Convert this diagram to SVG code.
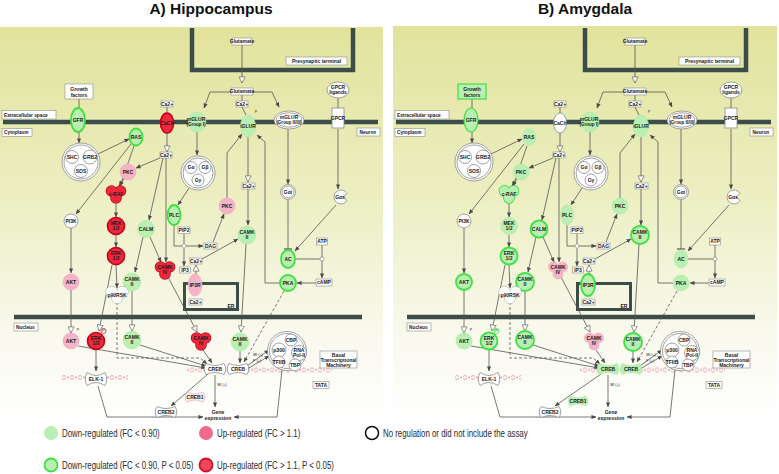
<svg xmlns="http://www.w3.org/2000/svg" xmlns:xlink="http://www.w3.org/1999/xlink" width="779" height="474" viewBox="0 0 779 474">
<style>
.bg{fill:url(#bgg)}
.mem{fill:none;stroke:#3b4c49;stroke-width:4.5}
.w{fill:none;stroke:#555;stroke-width:0.8}
.wd{fill:none;stroke:#555;stroke-width:0.8;stroke-dasharray:3,2}
.a{marker-end:url(#ah)}
.t{marker-end:url(#tri)}
.b{marker-end:url(#bar)}
.bx{fill:#fff;stroke:#8a8a8a;stroke-width:0.6}
.gbx{fill:#b9efb2;stroke:#3fe040;stroke-width:1.2}
.n0{fill:#fff;stroke:#8a8a8a;stroke-width:0.8}
.dg{fill:#b9efb2;stroke:#aee8a6;stroke-width:0.6}
.dgs{fill:#b9efb2;stroke:#3fe040;stroke-width:1.8}
.up{fill:#f4b3c6;stroke:#eeaabd;stroke-width:0.6}
.ups{fill:#f0283c;stroke:#c4001c;stroke-width:1.6}
.pk0{fill:#fdf0f3;stroke:#e8a8b8;stroke-width:0.7}
text{font-family:"Liberation Sans",Arial,sans-serif;font-size:5px;font-weight:bold;text-anchor:middle;fill:#1a1a1a}
.st{text-anchor:start}
.sm{font-size:3.6px;font-weight:normal}
.ttl{font-size:15.5px;fill:#111}
.lg{font-size:10.5px;font-weight:normal;text-anchor:start;fill:#2a2a2a}
</style>
<defs>
<linearGradient id="bgg" x1="0" y1="0" x2="0" y2="1">
<stop offset="0" stop-color="#e1e39c"/>
<stop offset="0.45" stop-color="#edefc4"/>
<stop offset="0.78" stop-color="#f9f9ee"/>
<stop offset="1" stop-color="#ffffff"/>
</linearGradient>
<pattern id="dna" width="8" height="5" patternUnits="userSpaceOnUse"><path d="M0,0.5 L8,4.5 M0,4.5 L8,0.5" stroke="#e8889a" stroke-width="0.8" stroke-dasharray="2.2,1.2" fill="none"/></pattern>
<pattern id="dna2" y="2.5" width="8" height="5" patternUnits="userSpaceOnUse"><path d="M0,0.5 L8,4.5 M0,4.5 L8,0.5" stroke="#e8889a" stroke-width="0.8" stroke-dasharray="2.2,1.2" fill="none"/></pattern>
<marker id="ah" viewBox="0 0 6 6" refX="5.5" refY="3" markerWidth="5" markerHeight="5" markerUnits="userSpaceOnUse" orient="auto"><path d="M0,0.5 L6,3 L0,5.5 z" fill="#4a4a4a"/></marker>
<marker id="tri" viewBox="0 0 8 8" refX="7.5" refY="4" markerWidth="7" markerHeight="7" markerUnits="userSpaceOnUse" orient="auto"><path d="M0.5,0.5 L7.5,4 L0.5,7.5 z" fill="#fff" stroke="#666" stroke-width="0.8"/></marker>
<marker id="bar" viewBox="0 0 2 8" refX="1" refY="4" markerWidth="2" markerHeight="8" markerUnits="userSpaceOnUse" orient="auto"><path d="M1,0 V8" stroke="#555" stroke-width="1.2"/></marker>
<g id="frame">
<path class="mem" d="M192,28 V70 H353 V28"/>
<path class="mem" d="M3,122 H378"/>
<path class="mem" d="M14,317 H362"/>
<rect x="184.5" y="283.5" width="53" height="26" fill="none" stroke="#3b4c49" stroke-width="3"/>
<rect x="62" y="375" width="66" height="5" fill="url(#dna)"/>
<rect x="186" y="367.5" width="146" height="5" fill="url(#dna2)"/>
</g>
<g id="wires">
<path class="w t" d="M242,45 V83"/>
<path class="w a" d="M234,92 H210 L204,108"/>
<path class="w a" d="M250,92 H272 L279,107"/>
<path class="w" d="M242,95 V101"/>
<path class="w" d="M242,107 L246,115"/>
<path class="w" d="M79,99 V108"/>
<path class="w a" d="M79,132 V143"/>
<path class="w a" d="M98,154 L129,139"/>
<path class="w" d="M167,107 V113"/>
<path class="w t" d="M167,133 V152"/>
<path class="w a" d="M160,158 L136,168"/>
<path class="w a" d="M134,146 L120,186"/>
<path class="w a" d="M131,144 L76,214"/>
<path class="w a" d="M124,179 L119,186"/>
<path class="w a" d="M116,204 V217"/>
<path class="w a" d="M116,235 V247"/>
<path class="w a" d="M116,265 L117,288"/>
<path class="w t" d="M112,265 L99,331"/>
<path class="w a" d="M71,228 V273"/>
<path class="w t" d="M71,290 V333"/>
<path class="w a" d="M163,158 L149,220"/>
<path class="w a" d="M166,158 V262"/>
<path class="w a" d="M143,237 L135,272"/>
<path class="w a" d="M150,237 L161,262"/>
<path class="w t" d="M132,291 V331"/>
<path class="w a" d="M197,132 V155"/>
<path class="w a" d="M189,188 L178,205"/>
<path class="w a" d="M174,225 V246 H203"/>
<path class="w" d="M184,233.5 V244"/>
<path d="M184,243.5 L186.5,246 L184,248.5 L181.5,246 Z" fill="#fff" stroke="#666" stroke-width="0.6"/>
<path class="w a" d="M184,248.5 V266"/>
<path class="w a" d="M213,242 L224,214"/>
<path class="w a" d="M227,198 V153 L242,134"/>
<path class="w t" d="M248,137 V182"/>
<path class="w a" d="M248,189 V225"/>
<path class="w a" d="M202,259 L238,239"/>
<path class="w t" d="M196,274 V265"/>
<path class="w t" d="M168,277 L197,332"/>
<path class="w t" d="M246,244 L241,332"/>
<path class="w a" d="M288,129 V184"/>
<path class="w" d="M338,98 V108"/>
<path class="w a" d="M338,129 V189"/>
<path class="w b" d="M288,200 V249"/>
<path class="w a" d="M336,205 L295,251"/>
<path class="w" d="M295,259 H320"/>
<path class="w a" d="M322,245 V278"/>
<circle cx="322" cy="259" r="2" fill="#fff" stroke="#777" stroke-width="0.6"/>
<path class="w a" d="M316,283 H297"/>
<path class="w a" d="M280,283 H265 V142 L257,135"/>
<path class="wd a" d="M284,291 L244,362"/>
<path class="wd a" d="M117,302 V358 H200 L207,364"/>
<path class="w a" d="M78,346 L206,368"/>
<path class="w a" d="M140,345 L206,366"/>
<path class="w a" d="M203,350 L212,363"/>
<path class="w a" d="M240,351 V363"/>
<path class="w a" d="M96,350 V371"/>
<path class="w a" d="M247,366 L269,350"/>
<path class="w a" d="M247,369 L269,356"/>
<path class="w a" d="M215,375 V407"/>
<path class="w a" d="M98,386 L107,417 H203"/>
<path class="w a" d="M282,370 L277,417 H234"/>
</g>
</defs>

<rect width="779" height="474" fill="#fff"/>
<text class="ttl" x="211" y="14">A) Hippocampus</text>
<text class="ttl" x="585" y="14">B) Amygdala</text>

<!-- ================= PANEL A ================= -->
<g id="panelA">
<rect class="bg" x="0" y="27" width="383" height="395"/>
<use xlink:href="#frame"/>
<g id="A-connectors"><use xlink:href="#wires"/><path class="w a" d="M208,374 L171,406"/></g>
<g id="A-labels">
<rect class="bx" x="2" y="110.5" width="54" height="8.5"/><text class="st" x="4" y="116.6" style="font-size:4.8px">Extracellular space</text>
<rect class="bx" x="2" y="128.5" width="30" height="8"/><text class="st" x="4" y="134.4" style="font-size:4.8px">Cytoplasm</text>
<rect class="bx" x="14" y="323" width="24" height="8"/><text class="st" x="16" y="328.9" style="font-size:4.8px">Nucleus</text>
<rect class="bx" x="357" y="128" width="23" height="8"/><text class="st" x="359.5" y="133.9" style="font-size:4.8px">Neuron</text>
<rect class="bx" x="286" y="57" width="61" height="8"/><text x="316.5" y="62.8">Presynaptic terminal</text>
<text x="231" y="307.5">ER</text>
<rect class="bx" x="320" y="351" width="37" height="17"/><text x="338.5" y="356.5">Basal</text><text x="338.5" y="361.5">Transcriptional</text><text x="338.5" y="366.5">Machinery</text>
<rect class="bx" x="313" y="381.5" width="16" height="7"/><text x="321" y="386.7">TATA</text>
<text x="218" y="413.8">Gene</text><text x="218" y="419.8">expression</text>
<text class="sm" x="256" y="113">P</text><text class="sm" x="78" y="331">P</text>
<text class="sm" x="222" y="386">MI (+)</text><text class="sm" x="258" y="356">MI (+)</text><text class="sm" x="257" y="362">P (+)</text>
<circle cx="103.5" cy="331" r="2.5" fill="#fff" stroke="#e0203a" stroke-width="0.9"/><text class="sm" x="103.5" y="332.3">P</text>
</g>
<g id="A-small-molecules">
<g id="A-glutamate-1"><rect class="bx" x="232" y="38" width="20" height="7"/><text x="242" y="43.3">Glutamate</text></g>
<g id="A-glutamate-2"><rect class="bx" x="231" y="88" width="22" height="7"/><text x="242" y="93.3">Glutamate</text></g>
<g id="A-ca-1"><rect class="bx" x="236" y="101" width="12" height="6"/><text x="242" y="105.6">Ca2+</text></g>
<g id="A-ca-2"><rect class="bx" x="161" y="101" width="12" height="6"/><text x="167" y="105.6">Ca2+</text></g>
<g id="A-ca-3"><rect class="bx" x="160" y="152" width="12" height="6"/><text x="166" y="156.6">Ca2+</text></g>
<g id="A-ca-4"><rect class="bx" x="242" y="183" width="13" height="6"/><text x="248.5" y="187.6">Ca2+</text></g>
<g id="A-ca-5"><rect class="bx" x="190" y="258" width="12" height="6"/><text x="196" y="262.6">Ca2+</text></g>
<g id="A-ca-6"><rect class="bx" x="189" y="299" width="13" height="6"/><text x="195.5" y="303.6">Ca2+</text></g>
<g id="A-PIP2"><rect class="bx" x="178" y="227" width="12" height="6.5"/><text x="184" y="231.9">PIP2</text></g>
<g id="A-DAG"><rect class="bx" x="204" y="243" width="13" height="6"/><text x="210.5" y="247.6">DAG</text></g>
<g id="A-IP3"><rect class="bx" x="179.5" y="267" width="11" height="6"/><text x="185" y="271.6">IP3</text></g>
<g id="A-ATP"><rect class="bx" x="316.5" y="238" width="11" height="7"/><text x="322" y="243.2">ATP</text></g>
<g id="A-cAMP"><rect class="bx" x="316" y="279" width="16" height="7"/><text x="324" y="284.2">cAMP</text></g>
</g>
<g id="A-growth-factors"><rect class="bx" x="65" y="84" width="28" height="15"/><text x="79" y="90.5">Growth</text><text x="79" y="96.5">factors</text></g>
<g id="A-GFR"><ellipse class="dgs" cx="78" cy="120" rx="7" ry="12"/><text x="78" y="121.8">GFR</text></g>
<g id="A-CaCh"><ellipse class="ups" cx="167" cy="123" rx="6.5" ry="10"/><text x="167" y="124.8">CaCh</text></g>
<g id="A-mGLUR1"><ellipse class="dg" cx="197" cy="122" rx="9" ry="10"/><text x="196" y="121.2">mGLUR</text><text x="196" y="126" style="font-size:4.5px">(Group I)</text></g>
<g id="A-iGLUR"><ellipse class="dg" cx="248" cy="126" rx="7.5" ry="11"/><text x="248" y="127.8">iGLUR</text></g>
<g id="A-mGLUR23"><ellipse class="n0" cx="289" cy="120" rx="15" ry="9"/><ellipse class="n0" cx="289" cy="120" rx="13" ry="7.2"/><text x="289" y="119.2">mGLUR</text><text x="289" y="124" style="font-size:4.5px">(Group II/III)</text></g>
<g id="A-GPCR-ligands"><ellipse class="n0" cx="338" cy="90" rx="11" ry="8"/><text x="338" y="89">GPCR</text><text x="338" y="94">ligands</text></g>
<g id="A-GPCR"><rect class="n0" x="332" y="108" width="12" height="20"/><text x="338" y="119.8">GPCR</text></g>
<g id="A-SHC-GRB2-SOS"><circle class="n0" cx="81" cy="162" r="19"/><circle class="n0" cx="81" cy="162" r="17"/><circle class="n0" cx="72" cy="157" r="6.5"/><circle class="n0" cx="90" cy="157" r="7"/><circle class="n0" cx="81" cy="171" r="6.5"/><text x="72" y="158.8">SHC</text><text x="90" y="158.8">GRB2</text><text x="81" y="172.8">SOS</text></g>
<g id="A-RAS"><ellipse class="dgs" cx="136" cy="137" rx="6.5" ry="8.5"/><text x="136" y="138.8">RAS</text></g>
<g id="A-PKC-1"><circle class="up" cx="128" cy="172" r="8"/><text x="128" y="173.8">PKC</text></g>
<g id="A-cRAF"><g class="ups"><circle cx="111.5" cy="191" r="5"/><circle cx="120.5" cy="191" r="5"/><circle cx="116" cy="198" r="5"/></g><g class="ups" style="stroke:none"><circle cx="111.5" cy="191" r="5"/><circle cx="120.5" cy="191" r="5"/><circle cx="116" cy="198" r="5"/></g><text x="116" y="195.8">c-RAF</text></g>
<g id="A-MEK"><circle class="ups" cx="116" cy="226" r="8.5"/><text x="116" y="225.2">MEK</text><text x="116" y="230.2">1/2</text></g>
<g id="A-ERK-cyto"><circle class="ups" cx="116" cy="256" r="8.5"/><text x="116" y="255.2">ERK</text><text x="116" y="260.2">1/2</text></g>
<g id="A-PI3K"><circle class="n0" cx="71" cy="221" r="7"/><text x="71" y="222.8">PI3K</text></g>
<g id="A-CALM"><circle class="dg" cx="146" cy="229" r="8.5"/><text x="146" y="230.8">CALM</text></g>
<g id="A-PLC"><ellipse class="dgs" cx="174" cy="215" rx="6.5" ry="10"/><text x="174" y="216.8">PLC</text></g>
<g id="A-Gq"><circle class="n0" cx="198" cy="173" r="17"/><circle class="n0" cx="198" cy="173" r="15"/><circle class="n0" cx="191" cy="167.5" r="6"/><circle class="n0" cx="205" cy="167.5" r="6"/><circle class="n0" cx="198" cy="180" r="6"/><text x="191" y="169.3">Gα</text><text x="205" y="169.3">Gβ</text><text x="198" y="181.8">Gγ</text></g>
<g id="A-PKC-2"><circle class="up" cx="227" cy="206" r="8"/><text x="227" y="207.8">PKC</text></g>
<g id="A-CAMKII-1"><circle class="dg" cx="247" cy="235" r="9"/><text x="247" y="234.2">CAMK</text><text x="247" y="239.2">II</text></g>
<g id="A-IP3R"><ellipse class="up" cx="195" cy="285" rx="7" ry="11"/><text x="195" y="286.8">IP3R</text></g>
<g id="A-CAMKIV-cyto"><g class="ups"><circle cx="160.5" cy="267" r="5"/><circle cx="169.5" cy="267" r="5"/><circle cx="165" cy="274" r="5"/></g><g class="ups" style="stroke:none"><circle cx="160.5" cy="267" r="5"/><circle cx="169.5" cy="267" r="5"/><circle cx="165" cy="274" r="5"/></g><text x="165" y="269">CAMK</text><text x="165" y="274">IV</text></g>
<g id="A-Gai"><circle class="n0" cx="288" cy="192" r="7.5"/><circle class="n0" cx="288" cy="192" r="6"/><text x="288" y="193.8">Gαi</text></g>
<g id="A-Gas"><path class="n0" d="M347.06,200.5 A7,7 0 1 1 347.06,193.5 L343,197 Z"/><text x="340" y="198.8">Gαs</text></g>
<g id="A-AC"><ellipse class="dgs" cx="288" cy="259" rx="7" ry="9"/><text x="288" y="260.8">AC</text></g>
<g id="A-PKA"><circle class="dgs" cx="288" cy="283" r="8"/><text x="288" y="284.8">PKA</text></g>
<g id="A-AKT-cyto"><circle class="up" cx="71" cy="282" r="8"/><text x="71" y="283.8">AKT</text></g>
<g id="A-CAMKII-2"><circle class="dg" cx="132" cy="282" r="9"/><text x="132" y="281.2">CAMK</text><text x="132" y="286.2">II</text></g>
<g id="A-p90RSK"><g class="n0"><circle cx="111.5" cy="292" r="5.5"/><circle cx="122.5" cy="292" r="5.5"/><circle cx="117" cy="298.5" r="5"/></g><g class="n0" style="stroke:none"><circle cx="111.5" cy="292" r="5.5"/><circle cx="122.5" cy="292" r="5.5"/><circle cx="117" cy="298.5" r="5"/></g><text x="117" y="296.8">p90RSK</text></g>
<g id="A-AKT-nuc"><circle class="up" cx="71" cy="341" r="8"/><text x="71" y="342.8">AKT</text></g>
<g id="A-ERK-nuc"><circle class="ups" cx="96" cy="341" r="8.5"/><text x="96" y="340.2">ERK</text><text x="96" y="345.2">1/2</text></g>
<g id="A-CAMKII-nuc-1"><circle class="dg" cx="132" cy="340" r="9"/><text x="132" y="339.2">CAMK</text><text x="132" y="344.2">II</text></g>
<g id="A-CAMKIV-nuc"><g class="ups"><circle cx="196.5" cy="338" r="5"/><circle cx="205.5" cy="338" r="5"/><circle cx="201" cy="345" r="5"/></g><g class="ups" style="stroke:none"><circle cx="196.5" cy="338" r="5"/><circle cx="205.5" cy="338" r="5"/><circle cx="201" cy="345" r="5"/></g><text x="201" y="340">CAMK</text><text x="201" y="345">IV</text></g>
<g id="A-CAMKII-nuc-2"><circle class="dg" cx="240" cy="342" r="9"/><text x="240" y="341.2">CAMK</text><text x="240" y="346.2">II</text></g>
<g id="A-ELK1"><path class="n0" d="M87,372.5 Q96,378.5 105,372.5 Q108.5,379 105,385.5 Q96,379.5 87,385.5 Q83.5,379 87,372.5 Z"/><text x="96" y="380.8">ELK-1</text></g>
<g id="A-CREB-1"><path class="n0" d="M206,363.5 Q215,367.5 224,363.5 Q227.5,369 224,374.5 Q215,370.5 206,374.5 Q202.5,369 206,363.5 Z"/><text x="215" y="370.8">CREB</text></g>
<g id="A-CREB-2"><path class="n0" d="M229,363.5 Q238,367.5 247,363.5 Q250.5,369 247,374.5 Q238,370.5 229,374.5 Q225.5,369 229,363.5 Z"/><text x="238" y="370.8">CREB</text></g>
<g id="A-basal-complex"><circle class="n0" cx="287" cy="351" r="19.5"/><circle class="n0" cx="287" cy="351" r="17.5"/><circle class="n0" cx="291" cy="340" r="6"/><circle class="n0" cx="279" cy="350" r="7"/><circle class="n0" cx="299" cy="353" r="7.5"/><circle class="n0" cx="279" cy="362" r="6"/><circle class="n0" cx="295" cy="365" r="6"/><text x="291" y="341.8">CBP</text><text x="279" y="351.8">p300</text><text x="299" y="352.2">RNA</text><text x="299" y="357">Pol-II</text><text x="279" y="363.8">TFIIB</text><text x="295" y="366.8">TBP</text></g>
<g id="A-CREB1"><path class="pk0" d="M187,392 Q195,396 203,392 Q206.5,397 203,402 Q195,398 187,402 Q183.5,397 187,392 Z"/><text x="195" y="398.8">CREB1</text></g>
<g id="A-CREB2"><path class="n0" d="M157,406.5 Q166,410.5 175,406.5 Q178.5,412 175,417.5 Q166,413.5 157,417.5 Q153.5,412 157,406.5 Z"/><text x="166" y="413.8">CREB2</text></g>
</g>

<!-- ================= PANEL B ================= -->
<g id="panelB" transform="translate(393,0)">
<rect class="bg" x="0" y="26" width="384" height="396"/>
<use xlink:href="#frame"/>
<g id="B-connectors"><use xlink:href="#wires"/><path class="w a" d="M208,374 L162,406"/></g>
<g id="B-labels">
<rect class="bx" x="2" y="110.5" width="54" height="8.5"/><text class="st" x="4" y="116.6" style="font-size:4.8px">Extracellular space</text>
<rect class="bx" x="2" y="128.5" width="30" height="8"/><text class="st" x="4" y="134.4" style="font-size:4.8px">Cytoplasm</text>
<rect class="bx" x="14" y="323" width="24" height="8"/><text class="st" x="16" y="328.9" style="font-size:4.8px">Nucleus</text>
<rect class="bx" x="357" y="128" width="23" height="8"/><text class="st" x="359.5" y="133.9" style="font-size:4.8px">Neuron</text>
<rect class="bx" x="286" y="57" width="61" height="8"/><text x="316.5" y="62.8">Presynaptic terminal</text>
<text x="231" y="307.5">ER</text>
<rect class="bx" x="320" y="351" width="37" height="17"/><text x="338.5" y="356.5">Basal</text><text x="338.5" y="361.5">Transcriptional</text><text x="338.5" y="366.5">Machinery</text>
<rect class="bx" x="313" y="381.5" width="16" height="7"/><text x="321" y="386.7">TATA</text>
<text x="218" y="413.8">Gene</text><text x="218" y="419.8">expression</text>
<text class="sm" x="256" y="113">P</text><text class="sm" x="78" y="331">P</text>
<text class="sm" x="222" y="386">MI (+)</text><text class="sm" x="258" y="356">MI (+)</text><text class="sm" x="257" y="362">P (+)</text>
<circle cx="103.5" cy="331" r="2.5" fill="#fff" stroke="#3fe040" stroke-width="0.9"/><text class="sm" x="103.5" y="332.3">P</text>
</g>
<g id="B-small-molecules">
<g id="B-glutamate-1"><rect class="bx" x="232" y="38" width="20" height="7"/><text x="242" y="43.3">Glutamate</text></g>
<g id="B-glutamate-2"><rect class="bx" x="231" y="88" width="22" height="7"/><text x="242" y="93.3">Glutamate</text></g>
<g id="B-ca-1"><rect class="bx" x="236" y="101" width="12" height="6"/><text x="242" y="105.6">Ca2+</text></g>
<g id="B-ca-2"><rect class="bx" x="161" y="101" width="12" height="6"/><text x="167" y="105.6">Ca2+</text></g>
<g id="B-ca-3"><rect class="bx" x="160" y="152" width="12" height="6"/><text x="166" y="156.6">Ca2+</text></g>
<g id="B-ca-4"><rect class="bx" x="242" y="183" width="13" height="6"/><text x="248.5" y="187.6">Ca2+</text></g>
<g id="B-ca-5"><rect class="bx" x="190" y="258" width="12" height="6"/><text x="196" y="262.6">Ca2+</text></g>
<g id="B-ca-6"><rect class="bx" x="189" y="299" width="13" height="6"/><text x="195.5" y="303.6">Ca2+</text></g>
<g id="B-PIP2"><rect class="bx" x="178" y="227" width="12" height="6.5"/><text x="184" y="231.9">PIP2</text></g>
<g id="B-DAG"><rect class="bx" x="204" y="243" width="13" height="6"/><text x="210.5" y="247.6">DAG</text></g>
<g id="B-IP3"><rect class="bx" x="179.5" y="267" width="11" height="6"/><text x="185" y="271.6">IP3</text></g>
<g id="B-ATP"><rect class="bx" x="316.5" y="238" width="11" height="7"/><text x="322" y="243.2">ATP</text></g>
<g id="B-cAMP"><rect class="bx" x="316" y="279" width="16" height="7"/><text x="324" y="284.2">cAMP</text></g>
</g>
<g id="B-growth-factors"><rect class="gbx" x="65" y="84" width="28" height="15"/><text x="79" y="90.5">Growth</text><text x="79" y="96.5">factors</text></g>
<g id="B-GFR"><ellipse class="dgs" cx="78" cy="120" rx="7" ry="12" style="stroke-width:1.2"/><text x="78" y="121.8">GFR</text></g>
<g id="B-CaCh"><ellipse class="n0" cx="167" cy="123" rx="6.5" ry="10"/><text x="167" y="124.8">CaCh</text></g>
<g id="B-mGLUR1"><ellipse class="dg" cx="197" cy="122" rx="9" ry="10"/><text x="196" y="121.2">mGLUR</text><text x="196" y="126" style="font-size:4.5px">(Group I)</text></g>
<g id="B-iGLUR"><ellipse class="dg" cx="248" cy="126" rx="7.5" ry="11"/><text x="248" y="127.8">iGLUR</text></g>
<g id="B-mGLUR23"><ellipse class="n0" cx="289" cy="120" rx="15" ry="9"/><ellipse class="n0" cx="289" cy="120" rx="13" ry="7.2"/><text x="289" y="119.2">mGLUR</text><text x="289" y="124" style="font-size:4.5px">(Group II/III)</text></g>
<g id="B-GPCR-ligands"><ellipse class="n0" cx="338" cy="90" rx="11" ry="8"/><text x="338" y="89">GPCR</text><text x="338" y="94">ligands</text></g>
<g id="B-GPCR"><rect class="n0" x="332" y="108" width="12" height="20"/><text x="338" y="119.8">GPCR</text></g>
<g id="B-SHC-GRB2-SOS"><circle class="n0" cx="81" cy="162" r="19"/><circle class="n0" cx="81" cy="162" r="17"/><circle class="n0" cx="72" cy="157" r="6.5"/><circle class="n0" cx="90" cy="157" r="7"/><circle class="n0" cx="81" cy="171" r="6.5"/><text x="72" y="158.8">SHC</text><text x="90" y="158.8">GRB2</text><text x="81" y="172.8">SOS</text></g>
<g id="B-RAS"><ellipse class="dg" cx="136" cy="137" rx="6.5" ry="8.5"/><text x="136" y="138.8">RAS</text></g>
<g id="B-PKC-1"><circle class="dg" cx="128" cy="172" r="8"/><text x="128" y="173.8">PKC</text></g>
<g id="B-cRAF"><g class="dgs"><circle cx="111.5" cy="191" r="5"/><circle cx="120.5" cy="191" r="5"/><circle cx="116" cy="198" r="5"/></g><g class="dgs" style="stroke:none"><circle cx="111.5" cy="191" r="5"/><circle cx="120.5" cy="191" r="5"/><circle cx="116" cy="198" r="5"/></g><text x="116" y="195.8">c-RAF</text></g>
<g id="B-MEK"><circle class="dg" cx="116" cy="226" r="8.5"/><text x="116" y="225.2">MEK</text><text x="116" y="230.2">1/2</text></g>
<g id="B-ERK-cyto"><circle class="dgs" cx="116" cy="256" r="8.5"/><text x="116" y="255.2">ERK</text><text x="116" y="260.2">1/2</text></g>
<g id="B-PI3K"><circle class="n0" cx="71" cy="221" r="7"/><text x="71" y="222.8">PI3K</text></g>
<g id="B-CALM"><circle class="dgs" cx="146" cy="229" r="8.5"/><text x="146" y="230.8">CALM</text></g>
<g id="B-PLC"><ellipse class="dg" cx="174" cy="215" rx="6.5" ry="10"/><text x="174" y="216.8">PLC</text></g>
<g id="B-Gq"><circle class="n0" cx="198" cy="173" r="17"/><circle class="n0" cx="198" cy="173" r="15"/><circle class="n0" cx="191" cy="167.5" r="6"/><circle class="n0" cx="205" cy="167.5" r="6"/><circle class="n0" cx="198" cy="180" r="6"/><text x="191" y="169.3">Gα</text><text x="205" y="169.3">Gβ</text><text x="198" y="181.8">Gγ</text></g>
<g id="B-PKC-2"><circle class="dg" cx="227" cy="206" r="8"/><text x="227" y="207.8">PKC</text></g>
<g id="B-CAMKII-1"><circle class="dgs" cx="247" cy="235" r="9"/><text x="247" y="234.2">CAMK</text><text x="247" y="239.2">II</text></g>
<g id="B-IP3R"><ellipse class="dgs" cx="195" cy="285" rx="7" ry="11"/><text x="195" y="286.8">IP3R</text></g>
<g id="B-CAMKIV-cyto"><g class="up"><circle cx="160.5" cy="267" r="5"/><circle cx="169.5" cy="267" r="5"/><circle cx="165" cy="274" r="5"/></g><g class="up" style="stroke:none"><circle cx="160.5" cy="267" r="5"/><circle cx="169.5" cy="267" r="5"/><circle cx="165" cy="274" r="5"/></g><text x="165" y="269">CAMK</text><text x="165" y="274">IV</text></g>
<g id="B-Gai"><circle class="n0" cx="288" cy="192" r="7.5"/><circle class="n0" cx="288" cy="192" r="6"/><text x="288" y="193.8">Gαi</text></g>
<g id="B-Gas"><path class="n0" d="M347.06,200.5 A7,7 0 1 1 347.06,193.5 L343,197 Z"/><text x="340" y="198.8">Gαs</text></g>
<g id="B-AC"><ellipse class="dg" cx="288" cy="259" rx="7" ry="9"/><text x="288" y="260.8">AC</text></g>
<g id="B-PKA"><circle class="dg" cx="288" cy="283" r="8"/><text x="288" y="284.8">PKA</text></g>
<g id="B-AKT-cyto"><circle class="dgs" cx="71" cy="282" r="8"/><text x="71" y="283.8">AKT</text></g>
<g id="B-CAMKII-2"><circle class="dgs" cx="132" cy="282" r="9"/><text x="132" y="281.2">CAMK</text><text x="132" y="286.2">II</text></g>
<g id="B-p90RSK"><g class="n0"><circle cx="111.5" cy="292" r="5.5"/><circle cx="122.5" cy="292" r="5.5"/><circle cx="117" cy="298.5" r="5"/></g><g class="n0" style="stroke:none"><circle cx="111.5" cy="292" r="5.5"/><circle cx="122.5" cy="292" r="5.5"/><circle cx="117" cy="298.5" r="5"/></g><text x="117" y="296.8">p90RSK</text></g>
<g id="B-AKT-nuc"><circle class="dg" cx="71" cy="341" r="8"/><text x="71" y="342.8">AKT</text></g>
<g id="B-ERK-nuc"><circle class="dgs" cx="96" cy="341" r="8.5"/><text x="96" y="340.2">ERK</text><text x="96" y="345.2">1/2</text></g>
<g id="B-CAMKII-nuc-1"><circle class="dgs" cx="132" cy="340" r="9"/><text x="132" y="339.2">CAMK</text><text x="132" y="344.2">II</text></g>
<g id="B-CAMKIV-nuc"><g class="up"><circle cx="196.5" cy="338" r="5"/><circle cx="205.5" cy="338" r="5"/><circle cx="201" cy="345" r="5"/></g><g class="up" style="stroke:none"><circle cx="196.5" cy="338" r="5"/><circle cx="205.5" cy="338" r="5"/><circle cx="201" cy="345" r="5"/></g><text x="201" y="340">CAMK</text><text x="201" y="345">IV</text></g>
<g id="B-CAMKII-nuc-2"><circle class="dgs" cx="240" cy="342" r="9"/><text x="240" y="341.2">CAMK</text><text x="240" y="346.2">II</text></g>
<g id="B-ELK1"><path class="n0" d="M87,372.5 Q96,378.5 105,372.5 Q108.5,379 105,385.5 Q96,379.5 87,385.5 Q83.5,379 87,372.5 Z"/><text x="96" y="380.8">ELK-1</text></g>
<g id="B-CREB-1"><path class="dg" d="M206,363.5 Q215,367.5 224,363.5 Q227.5,369 224,374.5 Q215,370.5 206,374.5 Q202.5,369 206,363.5 Z"/><text x="215" y="370.8">CREB</text></g>
<g id="B-CREB-2"><path class="dg" d="M229,363.5 Q238,367.5 247,363.5 Q250.5,369 247,374.5 Q238,370.5 229,374.5 Q225.5,369 229,363.5 Z"/><text x="238" y="370.8">CREB</text></g>
<g id="B-basal-complex"><circle class="n0" cx="287" cy="351" r="19.5"/><circle class="n0" cx="287" cy="351" r="17.5"/><circle class="n0" cx="291" cy="340" r="6"/><circle class="n0" cx="279" cy="350" r="7"/><circle class="n0" cx="299" cy="353" r="7.5"/><circle class="n0" cx="279" cy="362" r="6"/><circle class="n0" cx="295" cy="365" r="6"/><text x="291" y="341.8">CBP</text><text x="279" y="351.8">p300</text><text x="299" y="352.2">RNA</text><text x="299" y="357">Pol-II</text><text x="279" y="363.8">TFIIB</text><text x="295" y="366.8">TBP</text></g>
<g id="B-CREB1"><path class="dg" d="M177,396 Q185,400 193,396 Q196.5,401 193,406 Q185,402 177,406 Q173.5,401 177,396 Z"/><text x="185" y="402.8">CREB1</text></g>
<g id="B-CREB2"><path class="n0" d="M148,406.5 Q157,410.5 166,406.5 Q169.5,412 166,417.5 Q157,413.5 148,417.5 Q144.5,412 148,406.5 Z"/><text x="157" y="413.8">CREB2</text></g>
</g>

<!-- ================= LEGEND ================= -->
<g id="legend">
<circle cx="51" cy="433" r="7" fill="#b9efb2"/><text class="lg" transform="translate(62,437) scale(0.75,1)">Down-regulated (FC &lt; 0.90)</text>
<circle cx="206" cy="433" r="7" fill="#f06a8c"/><text class="lg" transform="translate(217,437) scale(0.75,1)">Up-regulated (FC &gt; 1.1)</text>
<circle cx="372" cy="433" r="6.5" fill="#fff" stroke="#111" stroke-width="1.5"/><text class="lg" transform="translate(383,437) scale(0.75,1)">No regulation or did not include the assay</text>
<circle cx="51" cy="465" r="6.5" fill="#b9efb2" stroke="#3fe040" stroke-width="1.8"/><text class="lg" transform="translate(62,469) scale(0.75,1)">Down-regulated (FC &lt; 0.90, P &lt; 0.05)</text>
<circle cx="206" cy="465" r="6.5" fill="#f04858" stroke="#d01028" stroke-width="1.8"/><text class="lg" transform="translate(217,469) scale(0.75,1)">Up-regulated (FC &gt; 1.1, P &lt; 0.05)</text>
</g>
</svg>
